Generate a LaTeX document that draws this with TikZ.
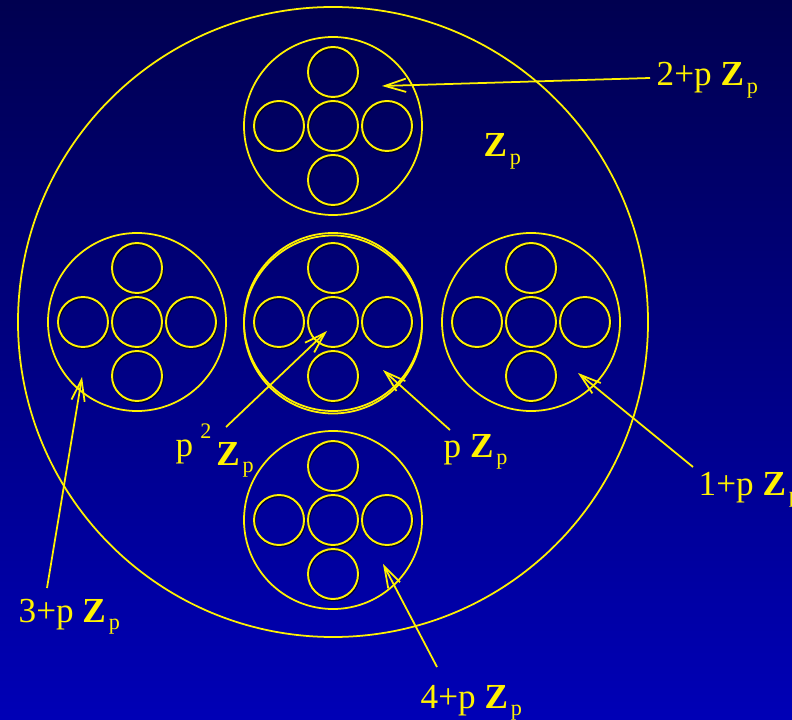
\documentclass[tikz,border=0pt]{standalone}
\usepackage{fontspec}
\setmainfont{Liberation Serif}
\usetikzlibrary{arrows.meta}

\definecolor{skytop}{RGB}{0,0,80}
\definecolor{skybot}{RGB}{0,0,182}
\newcommand{\subp}{\hspace{0.8pt}\raisebox{-2pt}{\fontsize{6.3}{7}\selectfont p}}

\begin{document}
\begin{tikzpicture}[
    x=0.01cm, y=-0.01cm,
    ring/.style={draw=yellow, line width=0.5pt},
    ball/.style={draw=yellow, line width=0.55pt},
    shadow/.style={draw=black, line width=0.6pt, opacity=0.7},
    arr/.style={-{Straight Barb[length=6pt,width=3.8pt]}, draw=yellow, line width=0.5pt},
    lab/.style={text=yellow, inner sep=0pt, anchor=base west, font=\fontsize{10}{12}\selectfont}
]
    \useasboundingbox (0,0) rectangle (792,719);
    \clip (0,0) rectangle (792,719);
    \shade[top color=skytop, bottom color=skybot] (0,0) rectangle (792,719);

    % the whole ring and the five residue classes
    \draw[ring] (333,322) circle[radius=315];
    \foreach \cx/\cy in {333/126, 137/322, 333/322, 531/322, 333/520} {
        \draw[ring] (\cx,\cy) circle[radius=89];
        \foreach \dx/\dy in {0/0, -54/0, 54/0, 0/-54, 0/54} {
            \draw[shadow] (\cx+\dx+0.8,\cy+\dy+1.2) circle[radius=25];
            \draw[ball] (\cx+\dx,\cy+\dy) circle[radius=25];
        }
    }
    \draw[ring] (333,324.5) circle[radius=89];

    \node[lab] (zp) at (483,157) {\textbf{Z}\subp};
    \node[lab] (two) at (656,86) {2+p \textbf{Z}\subp};
    \node[lab] (one) at (698,495) {1+p \textbf{Z}\subp};
    \node[lab] (three) at (18,622) {3+p \textbf{Z}\subp};
    \node[lab] (four) at (420,708) {4+p \textbf{Z}\subp};
    \node[lab] (pzp) at (443,457) {p \textbf{Z}\subp};
    \node[lab] (ppzp) at (175,465) {\raisebox{2.3pt}{p\hspace{2pt}\raisebox{5.2pt}{\fontsize{6.3}{7}\selectfont 2}}\hspace{1.4pt}\textbf{Z}\subp};

    \coordinate (twotail) at (650,78);
    \coordinate (twotip) at (382,86);
    \coordinate (onetail) at (693,467);
    \coordinate (onetip) at (578,373);
    \coordinate (threetail) at (47,588);
    \coordinate (threetip) at (82,377);
    \coordinate (fourtail) at (437,667);
    \coordinate (fourtip) at (383,564);
    \coordinate (pzptail) at (450,430);
    \coordinate (pzptip) at (383,370);
    \coordinate (ppzptail) at (226,427);
    \coordinate (ppzptip) at (327,331);

    \draw[arr] (twotail) -- (twotip);
    \draw[arr] (onetail) -- (onetip);
    \draw[arr] (threetail) -- (threetip);
    \draw[arr] (fourtail) -- (fourtip);
    \draw[arr] (pzptail) -- (pzptip);
    \draw[arr] (ppzptail) -- (ppzptip);
\end{tikzpicture}
\end{document}
